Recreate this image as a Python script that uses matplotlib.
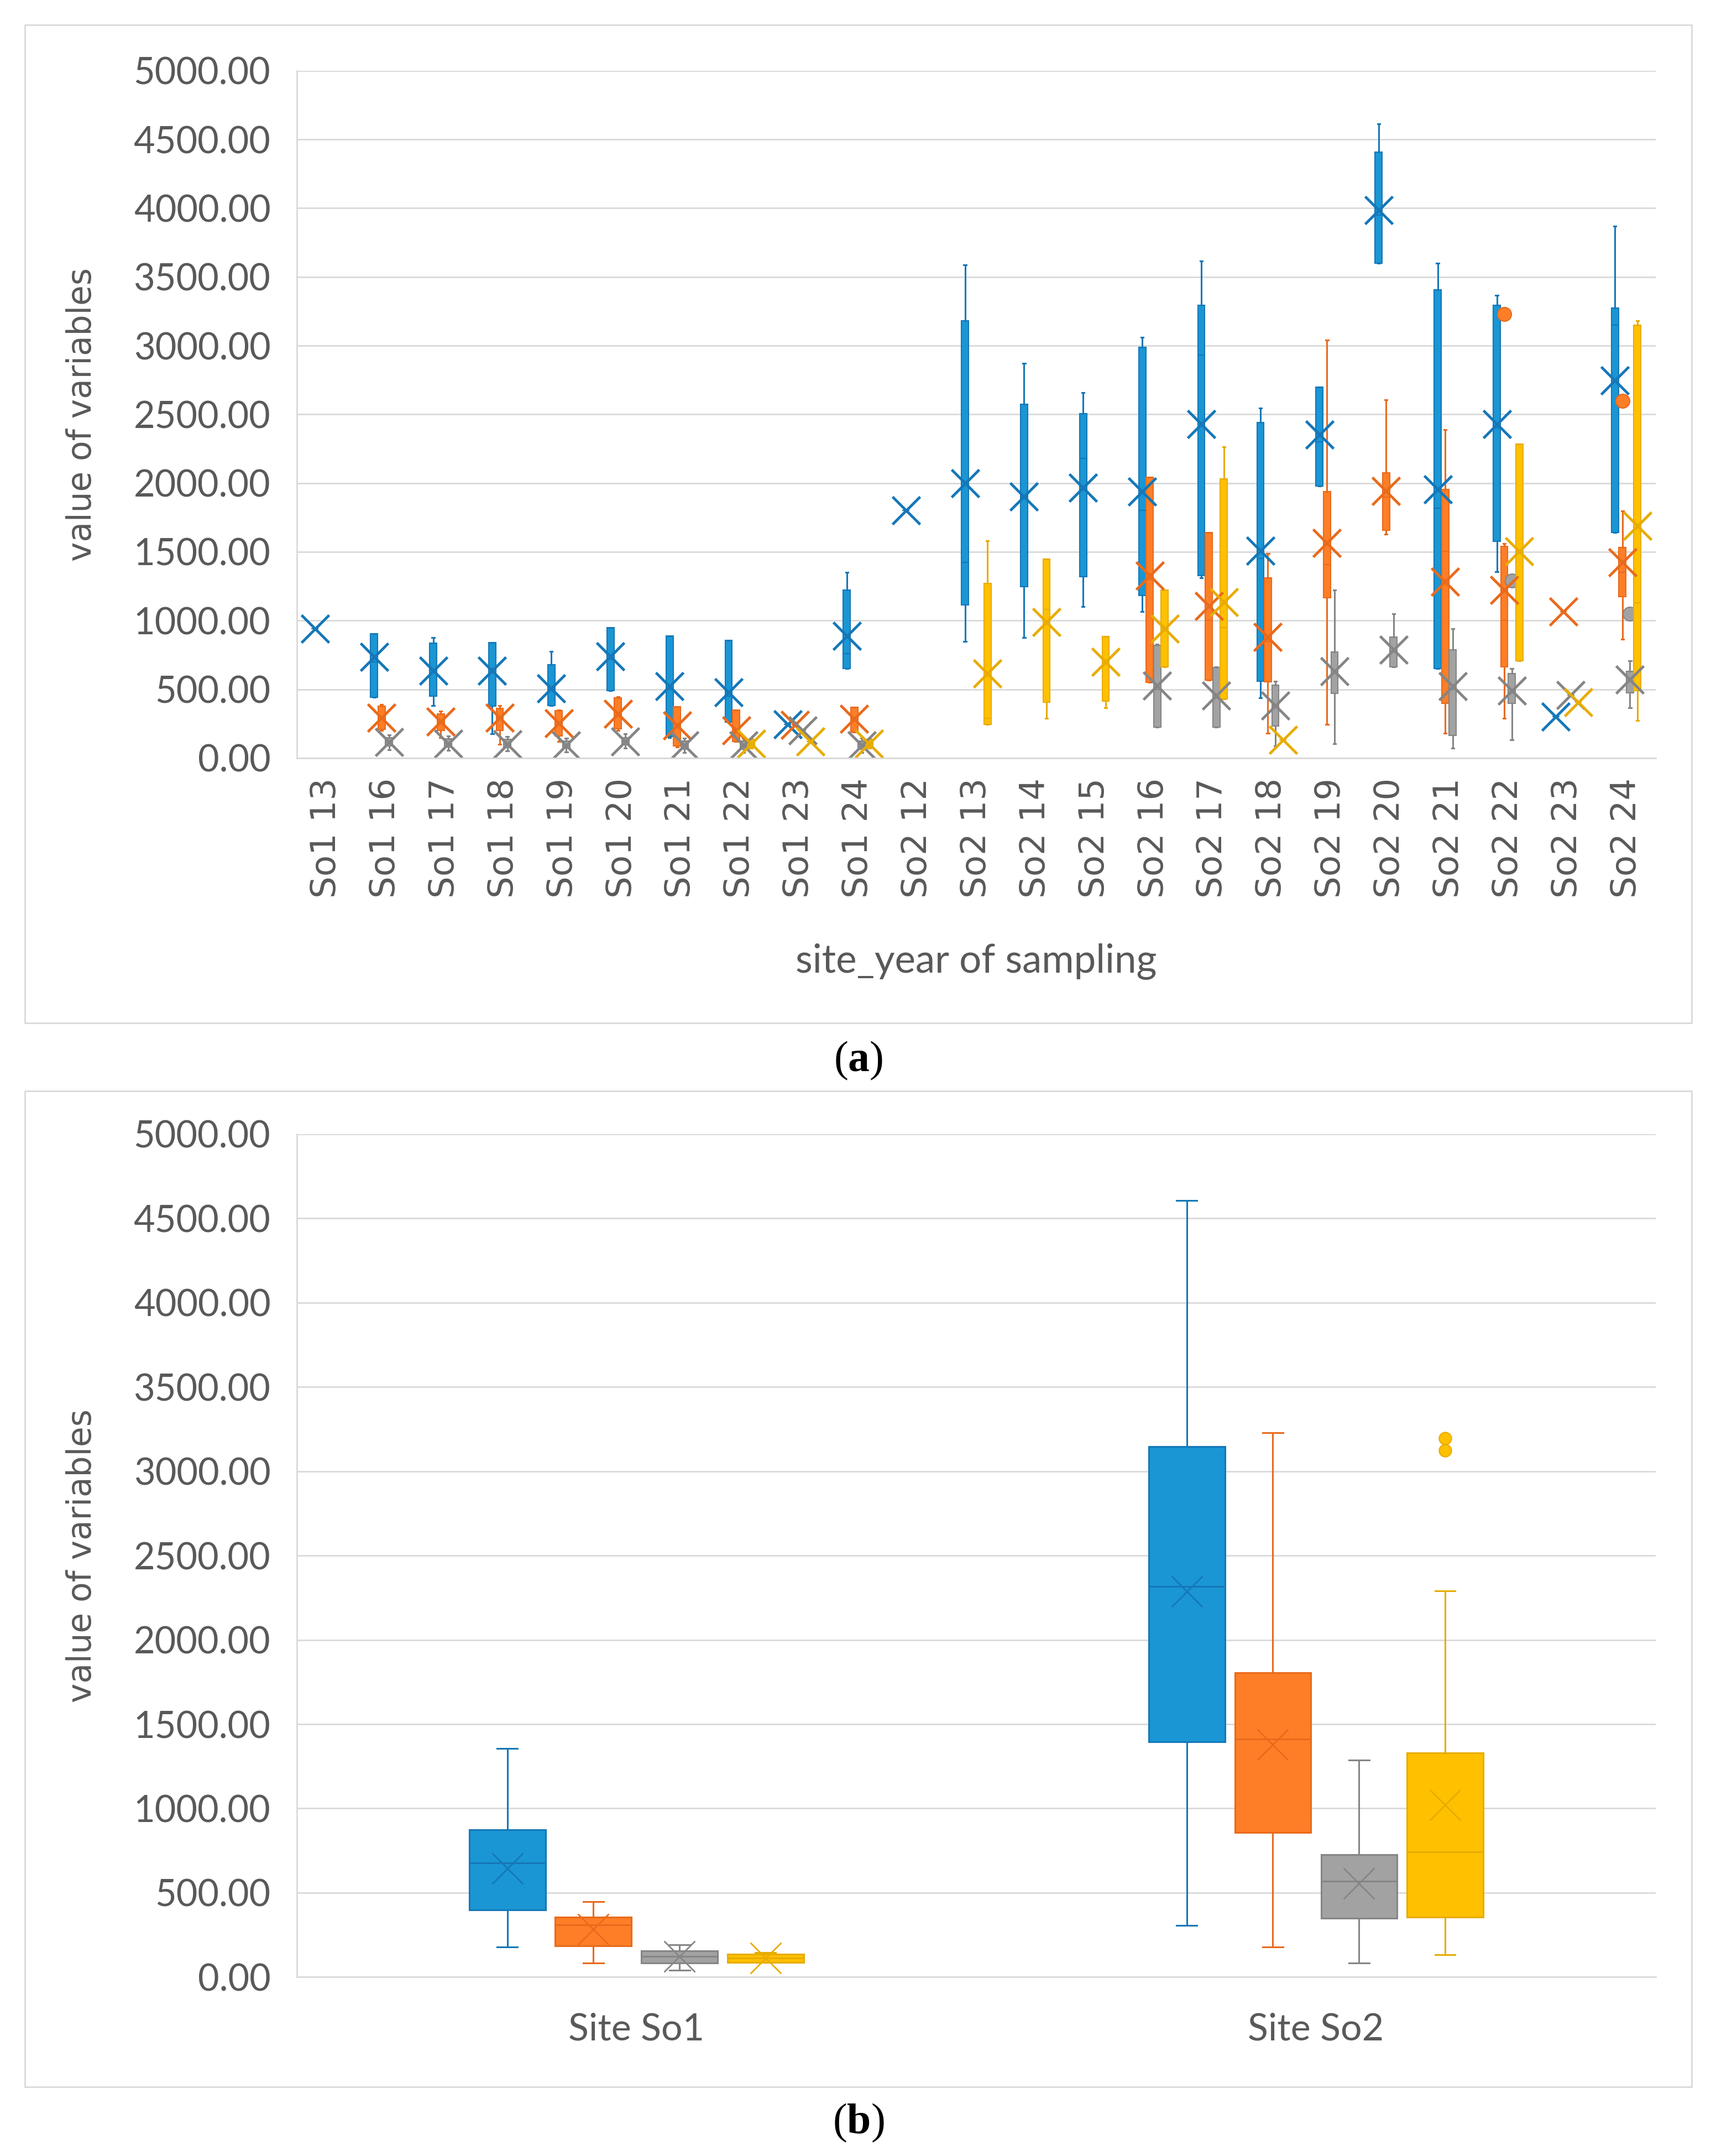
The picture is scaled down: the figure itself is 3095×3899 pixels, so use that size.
import matplotlib
matplotlib.use('Agg')
import matplotlib.pyplot as plt
from matplotlib.patches import Rectangle

# ---- data: panel (a), per site_year ----
categories = ['So1 13', 'So1 16', 'So1 17', 'So1 18', 'So1 19', 'So1 20', 'So1 21', 'So1 22',
              'So1 23', 'So1 24', 'So2 12', 'So2 13', 'So2 14', 'So2 15', 'So2 16', 'So2 17',
              'So2 18', 'So2 19', 'So2 20', 'So2 21', 'So2 22', 'So2 23', 'So2 24']

# each entry: (whisker low, Q1, median, Q3, whisker high, mean), None = no data
blue_a = [(940, 940, 940, 940, 940, 940), (441, 441, 700, 905, 905, 737),
          (381, 452, 640, 838, 876, 634), (178, 378, 650, 840, 840, 634),
          (381, 381, 500, 680, 777, 505), (492, 492, 720, 950, 950, 740),
          (150, 155, 500, 888, 888, 522), (260, 260, 450, 857, 857, 478),
          (243, 243, 243, 243, 243, 243), (650, 650, 760, 1224, 1350, 888),
          (1800, 1800, 1800, 1800, 1800, 1800), (849, 1113, 1424, 3182, 3586, 2000),
          (875, 1245, 1900, 2574, 2871, 1902), (1100, 1320, 2180, 2506, 2659, 1965),
          (1064, 1182, 1800, 2990, 3059, 1940), (1310, 1325, 2930, 3292, 3614, 2431),
          (440, 558, 1450, 2440, 2545, 1506), (1980, 1980, 2300, 2700, 2700, 2352),
          (3601, 3601, 3950, 4408, 4613, 3985), (652, 652, 1819, 3406, 3601, 1953),
          (1356, 1578, 2400, 3292, 3367, 2431), (300, 300, 300, 300, 300, 300),
          (1641, 1641, 3150, 3274, 3870, 2747)]
orange_a = [None, (200, 210, 290, 378, 390, 295), (150, 200, 260, 320, 340, 267),
            (100, 200, 290, 360, 380, 293), (120, 160, 250, 345, 350, 253),
            (200, 212, 310, 440, 445, 320), (80, 90, 220, 372, 372, 236),
            (120, 120, 200, 350, 350, 202), (240, 240, 240, 240, 240, 240),
            (190, 190, 280, 370, 370, 284), None, None, None, None,
            (550, 550, 1300, 2044, 2044, 1325), (566, 566, 1000, 1641, 1641, 1106),
            (180, 554, 850, 1309, 1487, 880), (243, 1166, 1409, 1938, 3042, 1564),
            (1627, 1658, 1900, 2077, 2606, 1944), (180, 398, 1502, 1953, 2388, 1284),
            (289, 662, 1000, 1539, 1560, 1222), (1067, 1067, 1067, 1067, 1067, 1067),
            (865, 1176, 1350, 1533, 1798, 1424)]
gray_a = [None, (60, 90, 115, 150, 170, 115), (55, 80, 105, 140, 160, 105),
          (50, 75, 100, 135, 155, 100), (45, 70, 91, 125, 145, 91),
          (70, 95, 120, 150, 175, 122), (40, 65, 93, 125, 145, 93),
          (40, 65, 93, 125, 145, 93), (202, 202, 202, 202, 202, 202),
          (40, 65, 93, 125, 145, 93), None, None, None, None,
          (226, 226, 500, 820, 830, 526), (226, 226, 440, 660, 662, 455),
          (87, 233, 380, 532, 560, 383), (103, 470, 620, 771, 1222, 631),
          (662, 662, 780, 880, 1051, 787), (72, 165, 500, 787, 942, 522),
          (134, 398, 480, 616, 650, 491), (460, 460, 460, 460, 460, 460),
          (367, 476, 560, 631, 709, 569)]
yellow_a = [None, None, None, None, None, None, None, (70, 75, 106, 135, 140, 106),
            (120, 120, 120, 120, 120, 120), (70, 75, 106, 135, 140, 106), None,
            (243, 243, 290, 1269, 1580, 616), (289, 407, 1082, 1446, 1446, 989),
            (367, 414, 693, 886, 886, 700), (662, 662, 940, 1222, 1222, 942),
            (429, 429, 949, 2031, 2264, 1135), (134, 134, 134, 134, 134, 134),
            None, None, None, (709, 709, 1500, 2286, 2286, 1502),
            (407, 407, 407, 407, 407, 407), (274, 491, 1129, 3150, 3182, 1689)]

# outliers: (category index, value)
orange_out_a = [(20, 3228), (22, 2600)]
gray_out_a = [(20, 1291), (22, 1051)]

# ---- data: panel (b), per site ----
sites = ['Site So1', 'Site So2']
blue_b = [(177, 399, 677, 873, 1357, 644), (307, 1396, 2318, 3146, 4607, 2286)]
orange_b = [(82, 186, 311, 356, 448, 284), (177, 857, 1413, 1805, 3227, 1380)]
gray_b = [(39, 82, 121, 154, 193, 121), (82, 350, 569, 726, 1288, 556)]
yellow_b = [(88, 88, 114, 137, 144, 114), (131, 356, 742, 1331, 2292, 1020)]
yellow_out_b = [(1, 3195), (1, 3123)]

y_ticks = [0, 500, 1000, 1500, 2000, 2500, 3000, 3500, 4000, 4500, 5000]

# ---- styling ----
fills = ['#1a96d4', '#fd7e26', '#a2a2a2', '#ffc000']
edges = ['#1577b8', '#e96a1c', '#858585', '#e8ac00']
offsets = [-0.19, -0.0635, 0.0635, 0.19]
text_col = '#595959'
grid_col = '#d9d9d9'

plt.rcParams['mathtext.fontset'] = 'custom'
plt.rcParams['mathtext.rm'] = 'Liberation Serif'
plt.rcParams['mathtext.bf'] = 'Liberation Serif:bold'


def make_stats(rows, outliers):
    stats, pos = [], []
    for i, row in enumerate(rows):
        if row is None:
            continue
        lo, q1, med, q3, hi, mean = row
        fl = [v for (k, v) in outliers if k == i]
        stats.append(dict(whislo=lo, q1=q1, med=med, q3=q3, whishi=hi, mean=mean, fliers=fl))
        pos.append(i)
    return stats, pos


def style_axes(ax, ncat):
    ax.set_ylim(0, 5000)
    ax.set_xlim(-0.5, ncat - 0.5)
    ax.set_yticks(y_ticks)
    ax.set_yticklabels([f'{v:.2f}' for v in y_ticks], family='Lato', fontsize=48, color=text_col)
    ax.yaxis.grid(True, color=grid_col, linewidth=2.0)
    ax.set_axisbelow(True)
    ax.tick_params(axis='both', length=0)
    ax.tick_params(axis='y', pad=34)
    for side in ['top', 'right']:
        ax.spines[side].set_visible(False)
    for side in ['left', 'bottom']:
        ax.spines[side].set_color(grid_col)
        ax.spines[side].set_linewidth(2.0)
    ax.set_ylabel('value of variables', family='DejaVu Sans', fontsize=43, color=text_col)
    ax.yaxis.set_label_coords(-0.146, 0.5)


def draw_series(ax, series, outs, width, lw_box, lw_wh, ms, mew, capw, flier_ms):
    for s, (rows, out) in enumerate(zip(series, outs)):
        stats, pos = make_stats(rows, out)
        ax.bxp(stats, positions=[p + offsets[s] for p in pos], widths=width,
               patch_artist=True, showmeans=True, capwidths=capw,
               boxprops=dict(facecolor=fills[s], edgecolor=edges[s], linewidth=lw_box),
               whiskerprops=dict(color=edges[s], linewidth=lw_wh),
               capprops=dict(color=edges[s], linewidth=lw_wh),
               medianprops=dict(color=edges[s], linewidth=lw_box),
               meanprops=dict(marker='x', markersize=ms, markeredgewidth=mew,
                              markeredgecolor=edges[s], markerfacecolor=edges[s]),
               flierprops=dict(marker='o', markersize=flier_ms, markerfacecolor=fills[s],
                               markeredgecolor=edges[s], markeredgewidth=1.5),
               manage_ticks=False)


fig = plt.figure(figsize=(30.95, 38.99), dpi=100)

# frames around the two panels
fig.patches.append(Rectangle((0.0145, 0.5255), 0.9742, 0.463, transform=fig.transFigure,
                             fill=False, edgecolor=grid_col, linewidth=2.0))
fig.patches.append(Rectangle((0.0145, 0.032), 0.9742, 0.462, transform=fig.transFigure,
                             fill=False, edgecolor=grid_col, linewidth=2.0))

# ---- panel (a) ----
ax1 = fig.add_axes([0.1734, 0.6484, 0.7943, 0.3188])
draw_series(ax1, [blue_a, orange_a, gray_a, yellow_a],
            [[], orange_out_a, gray_out_a, []],
            width=0.12, lw_box=1.5, lw_wh=2.2, ms=36, mew=3.5, capw=0.04, flier_ms=18)
style_axes(ax1, len(categories))
ax1.set_xticks(range(len(categories)))
ax1.set_xticklabels(categories, rotation=90, family='DejaVu Sans', fontsize=45, color=text_col)
ax1.tick_params(axis='x', pad=26)
ax1.set_xlabel('site_year of sampling', family='Lato', fontsize=51, color=text_col)
ax1.xaxis.set_label_coords(0.5, -0.27)

# ---- panel (b) ----
ax2 = fig.add_axes([0.1734, 0.083, 0.7943, 0.391])
draw_series(ax2, [blue_b, orange_b, gray_b, yellow_b],
            [[], [], [], yellow_out_b],
            width=0.112, lw_box=2.2, lw_wh=2.2, ms=40, mew=2.0, capw=0.03, flier_ms=16)
style_axes(ax2, len(sites))
ax2.set_xticks(range(len(sites)))
ax2.set_xticklabels(sites, family='Lato', fontsize=49, color=text_col)
ax2.tick_params(axis='x', pad=46)

# panel captions
fig.text(0.5016, 0.508, r'($\mathbf{a}$)', family='Liberation Serif', fontsize=56,
         ha='center', va='center', color='black')
fig.text(0.5016, 0.0154, r'($\mathbf{b}$)', family='Liberation Serif', fontsize=56,
         ha='center', va='center', color='black')

fig.savefig('out.png', dpi=100)
